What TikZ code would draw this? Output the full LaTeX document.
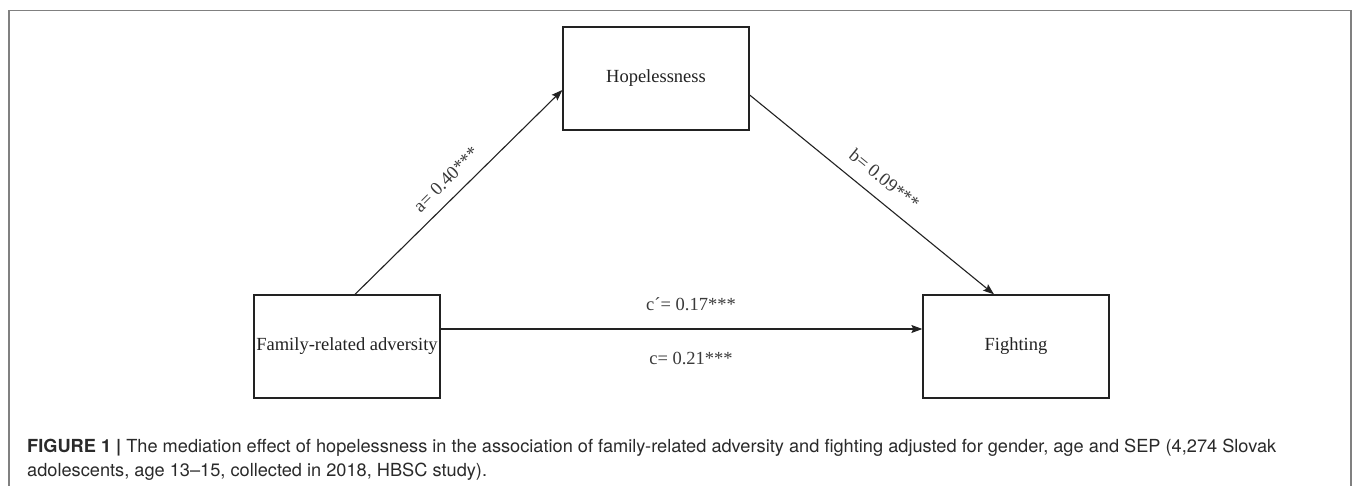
\documentclass[tikz,border=0pt]{standalone}
\usepackage{fontspec}
\usepackage{graphicx}
\setmainfont{Liberation Serif}
\newfontfamily\capfont{TeX Gyre Heros}
\usetikzlibrary{arrows.meta,calc}
\definecolor{framegray}{HTML}{808080}
\definecolor{ink}{HTML}{222222}
\definecolor{labink}{HTML}{3A3A3A}
\definecolor{capink}{HTML}{2A2A2A}
\newlength\mycapw
\newcommand\mycapA{\textbf{FIGURE 1 |} The mediation effect of hopelessness in the association of family-related adversity and fighting adjusted for gender, age and SEP (4,274 Slovak}
\newcommand\mycapB{adolescents, age 13\textendash 15, collected in 2018, HBSC study).}
\begin{document}
\settowidth\mycapw{\capfont\fontsize{18}{22}\selectfont\mycapA}%
\pgfmathsetmacro\capsx{1249/\mycapw}%
\begin{tikzpicture}[x=1pt,y=-1pt,
  varbox/.style={draw=ink, line width=1.3pt, minimum width=186pt, minimum height=103pt,
    inner sep=0pt, text=ink, font=\fontsize{18.5}{22}\selectfont},
  conn/.style={-{Stealth[length=11pt,width=8pt,inset=2pt]}, line width=1.1pt, draw=ink},
  lab/.style={text=labink, font=\fontsize{18.5}{22}\selectfont, inner sep=0pt},
  captxt/.style={anchor=base west, inner sep=0pt, text=capink}
]
\useasboundingbox (0,0) rectangle (1355,486);
\fill[white] (0,0) rectangle (1355,486);
\draw[framegray, line width=1.5pt] (9,486) -- (9,10.5) -- (1351,10.5) -- (1351,486);

\node[varbox] (hope) at (656,78.5) {Hopelessness};
\node[varbox] (fam) at (347,346.5) {Family-related adversity};
\node[varbox] (fight) at (1016,346.5) {Fighting};

\draw[conn] ([xshift=8pt]fam.north) -- node[lab, sloped, above=11pt, pos=0.5] (la) {a= 0.40***} ([yshift=-11.5pt]hope.west);
\draw[conn] ([yshift=-16.5pt]hope.east) -- node[lab, sloped, above=13pt, pos=0.5] (lb) {b= 0.09***} ([xshift=-22pt]fight.north);
\draw[conn] ([yshift=17.5pt]fam.east) --
  node[lab, above=17.5pt, xshift=9.5pt] (lc1) {c´= 0.17***}
  node[lab, below=22.5pt, xshift=9.5pt] (lc2) {c= 0.21***}
  ([yshift=17.5pt]fight.west);

\node[captxt] (cap1) at (27,452) {\capfont\fontsize{18}{22}\selectfont\scalebox{\capsx}[1]{\mycapA}};
\node[captxt] (cap2) at (27,476) {\capfont\fontsize{18}{22}\selectfont\scalebox{\capsx}[1]{\mycapB}};
\end{tikzpicture}
\end{document}
